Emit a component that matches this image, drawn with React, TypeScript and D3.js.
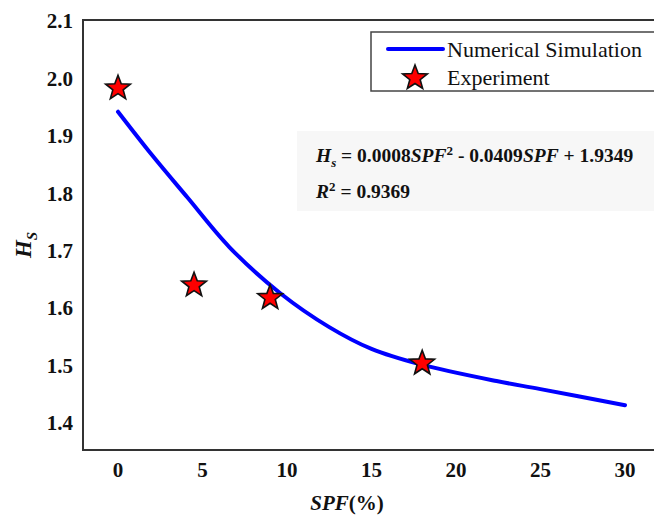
import React from "react";
import * as d3 from "d3";

const curveX = [0, 2, 4.1, 6.6, 9.6, 12.5, 15, 17.9, 22.4, 25, 30];
const curveY = [1.942, 1.867, 1.793, 1.706, 1.626, 1.567, 1.529, 1.502, 1.473, 1.459, 1.431];
const expX = [0, 4.5, 9, 18];
const expY = [1.983, 1.64, 1.618, 1.504];
const xTicks = [0, 5, 10, 15, 20, 25, 30];
const yTicks = [1.4, 1.5, 1.6, 1.7, 1.8, 1.9, 2.0, 2.1];

const W = 654;
const H = 519;
const FONT = '"Liberation Serif", "Times New Roman", Times, "DejaVu Serif", serif';

function starPath(cx: number, cy: number, R: number, r: number) {
  const pts: [number, number][] = [];
  for (let i = 0; i < 10; i++) {
    const a = -Math.PI / 2 + (i * Math.PI) / 5;
    const rad = i % 2 === 0 ? R : r;
    pts.push([cx + rad * Math.cos(a), cy + rad * Math.sin(a)]);
  }
  return d3.line()(pts) + "Z";
}

export default function App() {
  const x = d3.scaleLinear().domain([0, 30]).range([118, 625]);
  const y = d3.scaleLinear().domain([1.4, 2.1]).range([423, 21]);
  const left = 83;
  const top = 20;
  const bottom = 450;

  const line = d3
    .line<number>()
    .x((_, i) => x(curveX[i]))
    .y((d) => y(d))
    .curve(d3.curveCatmullRom.alpha(0.5));

  const R = 13;
  const r = R * 0.42;

  return (
    <svg
      width={W}
      height={H}
      style={{ position: "absolute", left: 0, top: 0, background: "#fff", fontFamily: FONT }}
    >
      <rect x={0} y={0} width={W} height={H} fill="#fff" />
      {/* frame */}
      <path
        d={`M${W + 5},${top} H${left} V${bottom} H${W + 5}`}
        fill="none"
        stroke="#333"
        strokeWidth={2}
      />
      {/* y ticks */}
      {yTicks.map((t) => (
        <text
          key={"y" + t}
          x={73}
          y={y(t)}
          dy="0.35em"
          textAnchor="end"
          fontSize={21}
          fontWeight="bold"
          fill="#111"
          style={{ fontFamily: FONT }}
        >
          {t.toFixed(1)}
        </text>
      ))}
      {/* x ticks */}
      {xTicks.map((t) => (
        <text
          key={"x" + t}
          x={x(t)}
          y={477}
          textAnchor="middle"
          fontSize={21}
          fontWeight="bold"
          fill="#111"
          style={{ fontFamily: FONT }}
        >
          {t}
        </text>
      ))}
      {/* axis labels */}
      <text x={347} y={510} textAnchor="middle" fontSize={21} fontWeight="bold" fill="#111" style={{ fontFamily: FONT }}>
        <tspan fontStyle="italic">SPF</tspan>
        <tspan>(%)</tspan>
      </text>
      <text
        transform="translate(31,245) rotate(-90)"
        textAnchor="middle"
        fontSize={23}
        fontWeight="bold"
        fontStyle="italic"
        fill="#111"
        style={{ fontFamily: FONT }}
      >
        H<tspan fontSize={15} dy={6}>S</tspan>
      </text>

      {/* equation box */}
      <rect x={297} y={131} width={W - 297 + 5} height={80} fill="#f7f7f7" />
      <text x={316} y={162} fontSize={19.5} fontWeight="bold" fill="#111" style={{ fontFamily: FONT }}>
        <tspan fontStyle="italic">H</tspan>
        <tspan fontStyle="italic" fontSize={13} dy={5}>s</tspan>
        <tspan dy={-5}> = 0.0008</tspan>
        <tspan fontStyle="italic">SPF</tspan>
        <tspan fontSize={13} dy={-7}>2</tspan>
        <tspan dy={7}> - 0.0409</tspan>
        <tspan fontStyle="italic">SPF</tspan>
        <tspan> + 1.9349</tspan>
      </text>
      <text x={316} y={198} fontSize={19.5} fontWeight="bold" fill="#111" style={{ fontFamily: FONT }}>
        <tspan fontStyle="italic">R</tspan>
        <tspan fontSize={13} dy={-7}>2</tspan>
        <tspan dy={7}> = 0.9369</tspan>
      </text>

      {/* curve */}
      <path d={line(curveY) || ""} fill="none" stroke="#0000ff" strokeWidth={4} strokeLinecap="round" />

      {/* stars */}
      {expX.map((v, i) => (
        <path
          key={"s" + i}
          d={starPath(x(v), y(expY[i]), R, r)}
          fill="#ff0000"
          stroke="#111"
          strokeWidth={1.6}
        />
      ))}

      {/* legend */}
      <rect x={371} y={32} width={W - 371 + 5} height={59} fill="#fff" stroke="#444" strokeWidth={1.5} />
      <line x1={388} x2={443} y1={49} y2={49} stroke="#0000ff" strokeWidth={4} strokeLinecap="round" />
      <text x={447} y={57} fontSize={22} fill="#111" style={{ fontFamily: FONT }}>
        Numerical Simulation
      </text>
      <path d={starPath(415, 78, R, r)} fill="#ff0000" stroke="#111" strokeWidth={1.6} />
      <text x={447} y={85} fontSize={22} fill="#111" style={{ fontFamily: FONT }}>
        Experiment
      </text>
    </svg>
  );
}
